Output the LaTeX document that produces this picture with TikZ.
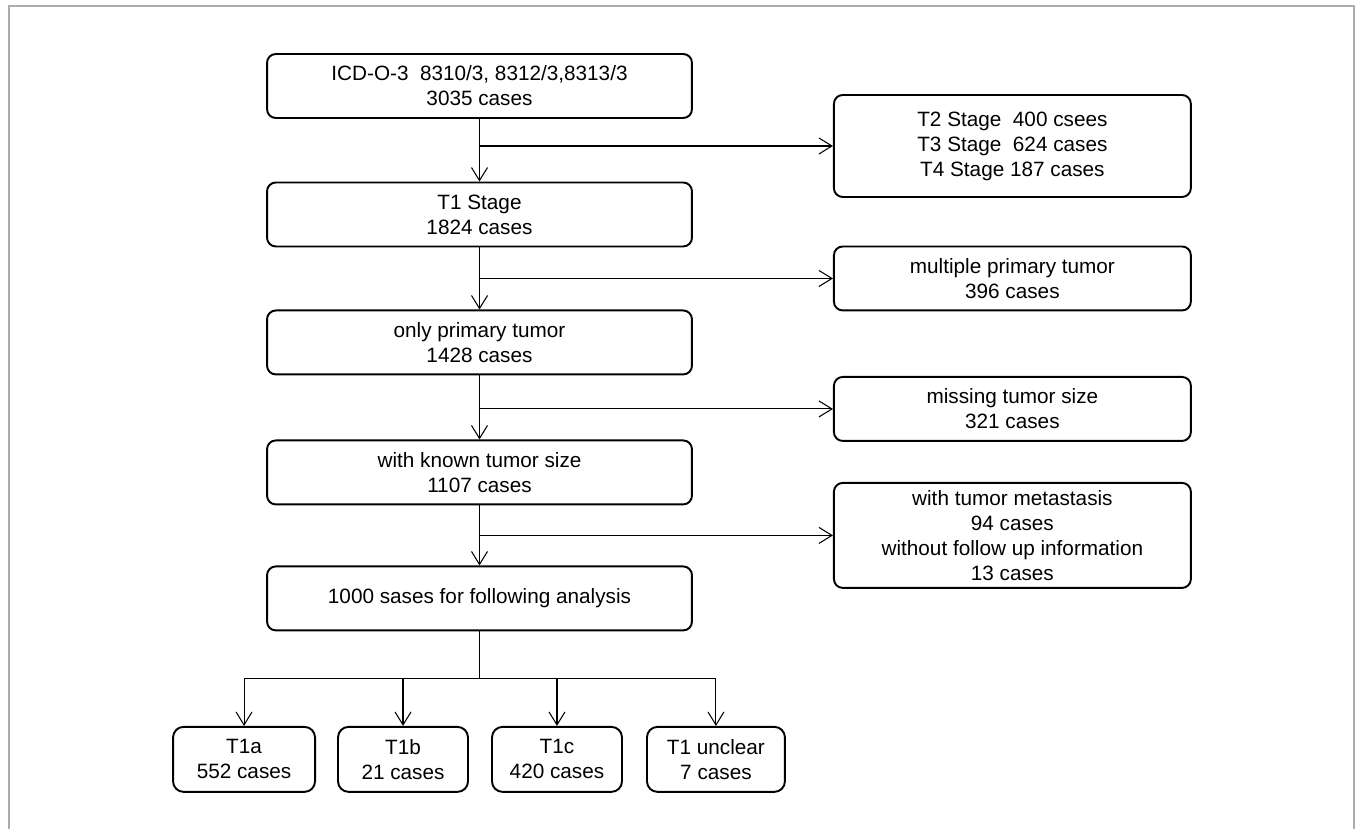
\documentclass[tikz,border=0pt]{standalone}
\usepackage{fontspec}
\setsansfont{Liberation Sans}
\usetikzlibrary{arrows.meta,positioning}
\tikzset{
  basic/.style = {draw, font=\sffamily\fontsize{11.8}{14.2}\selectfont, rectangle,
                  align=center, line width=1.1pt},
  main/.style  = {basic, rounded corners=5pt, minimum width=8.5cm, minimum height=1.28cm},
  side/.style  = {basic, rounded corners=5pt, minimum width=7.14cm, minimum height=1.28cm},
  leaf/.style  = {basic, rounded corners=6pt, minimum width=2.6cm, minimum height=1.3cm}
}

\begin{document}
\begin{tikzpicture}[
  x=0.02cm, y=-0.02cm,
  line width=0.6pt,
  >={Straight Barb[length=2.6mm,width=3.2mm]}]

\useasboundingbox (0,0) rectangle (1357,829);

% frame round the figure
\draw[gray!65] (9,829) -- (9,6) -- (1354,6) -- (1354,829);

% main column
\node[main] (b1) at (479.5,86) {ICD-O-3\ \ 8310/3, 8312/3,8313/3\\3035 cases};
\node[main, below of=b1, node distance=2.57cm] (b2) {T1 Stage\\1824 cases};
\node[main, below of=b2, node distance=2.56cm] (b3) {only primary tumor\\1428 cases};
\node[main, below of=b3, node distance=2.6cm] (b4) {with known tumor size\\1107 cases};
\node[main, below of=b4, node distance=2.52cm] (b5) {1000 sases for following analysis};

% excluded cases, right column
\node[side, minimum height=2.04cm, right of=b1, node distance=10.66cm, yshift=-1.2cm] (r1)
  {T2 Stage\ \ 400 csees\\T3 Stage\ \ 624 cases\\T4 Stage 187 cases};
\node[side, below of=r1, node distance=2.65cm] (r2) {multiple primary tumor\\396 cases};
\node[side, below of=r2, node distance=2.61cm] (r3) {missing tumor size\\321 cases};
\node[side, minimum height=2.1cm, below of=r3, node distance=2.53cm] (r4)
  {with tumor metastasis\\94 cases\\without follow up information\\13 cases};

% T1 subgroups
\node[leaf, minimum width=2.84cm, below of=b5, node distance=3.22cm, xshift=-4.71cm] (t1a) {T1a\\552 cases};
\node[leaf, right of=t1a, node distance=3.18cm] (t1b) {T1b\\21 cases};
\node[leaf, right of=t1b, node distance=3.08cm] (t1c) {T1c\\420 cases};
\node[leaf, minimum width=2.76cm, right of=t1c, node distance=3.18cm] (t1u) {T1 unclear\\7 cases};

\coordinate[below of=b5, node distance=1.61cm] (split);

\foreach \i/\j in {1/2,2/3,3/4,4/5}
  \draw[->] (b\i) -- (b\j);

\foreach \i in {1,...,4}
  \draw[->] (b\i.south |- r\i.west) -- (r\i.west);

\draw (b5) -- (split);
\foreach \k in {a,b,c,u}
  \draw[->] (split) -| (t1\k);

\end{tikzpicture}
\end{document}
